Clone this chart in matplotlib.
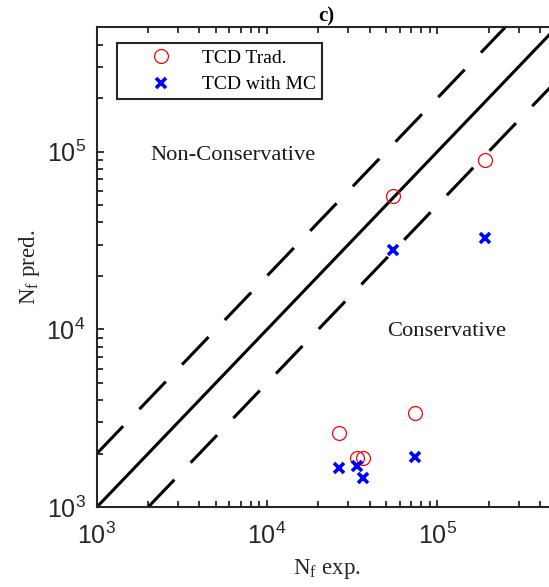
"""Predicted vs experimental fatigue life, log-log scatter (panel c)."""

import matplotlib

matplotlib.use("Agg")
import matplotlib.pyplot as plt
import numpy as np

# experimental lives and the two predictions
n_exp = [26600, 33600, 36800, 74000, 55100, 191000]
n_trad = [2615, 1900, 1900, 3373, 56100, 89400]
n_mc = [1663, 1713, 1466, 1924, 27900, 32600]

lim_lo, lim_hi = 1e3, 5e5
band = 2.0

plt.rcParams["font.family"] = "Liberation Sans"
plt.rcParams["axes.linewidth"] = 1.5
serif = "Liberation Serif"
dark = "#262626"

fig = plt.figure(figsize=(5.49, 5.87), dpi=100)
ax = fig.add_axes([0.1761, 0.1358, 0.8375, 0.8177])
ax.set_xscale("log")
ax.set_yscale("log")

# y = x and the factor-2 band
ax.plot([lim_lo, lim_hi], [lim_lo, lim_hi], color="black", lw=2.2, solid_capstyle="butt")
ax.plot([lim_lo, lim_hi / band], [lim_lo * band, lim_hi], color="black", lw=2.2,
        linestyle=(0, (12.5, 7.7)), dash_capstyle="butt")
ax.plot([lim_lo * band, lim_hi], [lim_lo, lim_hi / band], color="black", lw=2.2,
        linestyle=(0, (12.5, 7.7)), dash_capstyle="butt")

ax.plot(n_exp, n_trad, "o", mfc="none", mec="red", ms=10, mew=0.9, label="TCD Trad.")
ax.plot(n_exp, n_mc, "x", color="blue", ms=7, mew=2.6, label="TCD with MC")

ax.set_xlim(lim_lo, lim_hi)
ax.set_ylim(lim_lo, lim_hi)

ax.text(6290, 9.53e4, "Non-Conservative", family=serif, fontsize=16.2,
        ha="center", va="center", color="#1a1a1a")
ax.text(1.135e5, 9700, "Conservative", family=serif, fontsize=16.2,
        ha="center", va="center", color="#1a1a1a")

ax.set_xlabel(r"N$_{\mathregular{f}}$ exp.", family=serif, fontsize=16.5, color=dark, labelpad=6)
ax.set_ylabel(r"N$_{\mathregular{f}}$ pred.", family=serif, fontsize=16.5, color=dark, labelpad=3)
ax.set_title("c)", family=serif, fontsize=15, fontweight="bold", pad=4)

for s in ax.spines.values():
    s.set_color(dark)
ax.spines["right"].set_visible(False)
ax.tick_params(which="both", direction="in", top=True, right=False, colors=dark,
               labelsize=18, width=1.3)
ax.tick_params(which="major", length=5, pad=8)
ax.tick_params(axis="x", which="major", pad=11)
ax.tick_params(which="minor", length=4)

leg = ax.legend(loc="upper left", bbox_to_anchor=(0.0435, 0.9667), borderaxespad=0,
                prop={"family": serif, "size": 14}, fancybox=False, framealpha=1,
                edgecolor=dark, borderpad=0.3, handlelength=4.0, handletextpad=0.1,
                labelspacing=0.47)
leg.get_frame().set_linewidth(1.5)

fig.savefig("out.png", dpi=100)
plt.close(fig)
